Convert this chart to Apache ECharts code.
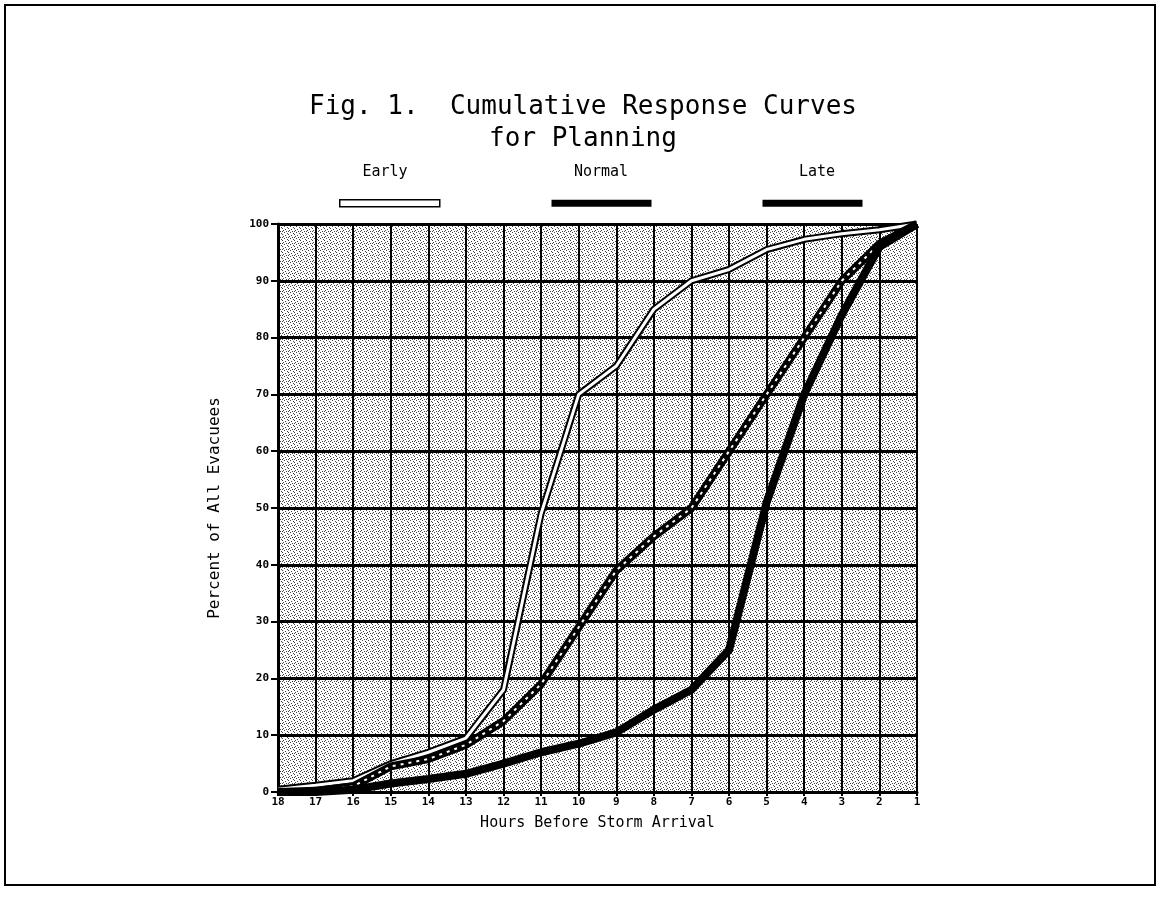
<!DOCTYPE html>
<html>
<head>
<meta charset="utf-8">
<script src="https://cdn.jsdelivr.net/npm/echarts@6/dist/echarts.min.js"></script>
<style>
html, body { margin: 0; padding: 0; background: #fff; }
#main { width: 1161px; height: 911px; }
</style>
</head>
<body>
<div id="main"></div>
<script>
// hours before storm arrival (x axis runs 18 -> 1)
var hours = [18, 17, 16, 15, 14, 13, 12, 11, 10, 9, 8, 7, 6, 5, 4, 3, 2, 1];
// cumulative percent of evacuees
var early  = [0.5, 1.2, 2, 5, 7, 9.5, 18, 49, 70, 75, 85, 90, 92, 95.5, 97.3, 98.3, 99, 100];
var normal = [0, 0.2, 1, 4.5, 5.8, 8.3, 12.5, 19, 29, 39, 45, 50, 60, 70, 80, 90, 96.5, 100];
var late   = [0, 0, 0.4, 1.5, 2.3, 3.2, 5, 7, 8.5, 10.5, 14.5, 18, 25, 51, 70, 84, 96, 100];
var legendNames = ['Early', 'Normal', 'Late'];

function pairs(vals) {
    return hours.map(function (h, i) { return [h, vals[i]]; });
}

// stippled grey fill like the printed chart
var cvs = document.createElement('canvas');
cvs.width = 6; cvs.height = 6;
var g = cvs.getContext('2d');
g.fillStyle = '#fff';
g.fillRect(0, 0, 6, 6);
g.fillStyle = '#444';
[[0, 0], [3, 1], [1, 2], [4, 3], [2, 4], [5, 5], [0, 3]].forEach(function (p) {
    g.fillRect(p[0], p[1], 1, 1);
});
var stipple = { image: cvs, repeat: 'repeat' };

var mono = 'DejaVu Sans Mono';
var myChart = echarts.init(document.getElementById('main'));

var option = {
    backgroundColor: '#fff',
    animation: false,
    title: {
        text: 'Fig. 1.  Cumulative Response Curves\nfor Planning',
        left: 578,
        top: 86,
        textAlign: 'center',
        textStyle: {
            fontFamily: mono,
            fontSize: 26,
            fontWeight: 'normal',
            lineHeight: 32,
            color: '#000'
        }
    },
    legend: {
        data: [
            { name: 'Early', itemStyle: { color: '#fff', borderColor: '#000', borderWidth: 1.5 } },
            { name: 'Normal', itemStyle: { color: '#000' } },
            { name: 'Late', itemStyle: { color: '#000' } }
        ],
        icon: 'rect',
        left: 334,
        top: 194,
        itemWidth: 100,
        itemHeight: 7,
        itemGap: 111,
        formatter: function () { return ''; },
        selectedMode: false
    },
    grid: {
        left: 278,
        right: 244,
        top: 224,
        bottom: 119,
        show: true,
        borderWidth: 0,
        backgroundColor: stipple
    },
    xAxis: {
        type: 'value',
        inverse: true,
        min: 1,
        max: 18,
        interval: 1,
        name: 'Hours Before Storm Arrival',
        nameLocation: 'middle',
        nameGap: 24,
        nameTextStyle: { fontFamily: mono, fontSize: 15, color: '#000' },
        axisLine: { show: true, lineStyle: { color: '#000', width: 3 } },
        axisTick: { show: true, length: 4, lineStyle: { color: '#000', width: 2 } },
        axisLabel: { fontFamily: mono, fontSize: 11, fontWeight: 'bold', color: '#000', margin: 5 },
        splitLine: { show: true, lineStyle: { color: '#000', width: 2 } }
    },
    yAxis: {
        type: 'value',
        min: 0,
        max: 100,
        interval: 10,
        name: 'Percent of All Evacuees',
        nameLocation: 'middle',
        nameGap: 55,
        nameRotate: 90,
        nameTextStyle: { fontFamily: mono, fontSize: 16, color: '#000' },
        axisLine: { show: true, lineStyle: { color: '#000', width: 3 } },
        axisTick: { show: true, length: 7, lineStyle: { color: '#000', width: 2 } },
        axisLabel: { fontFamily: mono, fontSize: 11, fontWeight: 'bold', color: '#000', margin: 9 },
        splitLine: { show: true, lineStyle: { color: '#000', width: 3 } }
    },
    series: [{
        name: 'Early',
        type: 'line',
        data: pairs(early),
        showSymbol: false,
        lineStyle: { color: '#000', width: 7 },
        itemStyle: { color: '#fff' },
        z: 3
    }, {
        name: 'early-core',
        type: 'line',
        data: pairs(early),
        showSymbol: false,
        silent: true,
        lineStyle: { color: '#fff', width: 3 },
        z: 4
    }, {
        name: 'Normal',
        type: 'line',
        data: pairs(normal),
        showSymbol: false,
        lineStyle: { color: '#000', width: 8 },
        itemStyle: { color: '#000' },
        z: 5
    }, {
        name: 'normal-core',
        type: 'line',
        data: pairs(normal),
        showSymbol: false,
        silent: true,
        lineStyle: { color: '#fff', width: 2, type: [3, 5] },
        z: 6
    }, {
        name: 'Late',
        type: 'line',
        data: pairs(late),
        showSymbol: false,
        lineStyle: { color: '#000', width: 8 },
        itemStyle: { color: '#000' },
        z: 7
    }],
    graphic: [{
        type: 'rect',
        shape: { x: 5, y: 5, width: 1150, height: 880 },
        style: { fill: null, stroke: '#000', lineWidth: 2 },
        silent: true
    }].concat(legendNames.map(function (n, i) {
        return {
            type: 'text',
            x: 385 + i * 216,
            y: 165,
            style: { text: n, fontFamily: mono, fontSize: 15, fill: '#000', align: 'center' },
            silent: true
        };
    }))
};

myChart.clear();
myChart.setOption(option);
</script>
</body>
</html>
